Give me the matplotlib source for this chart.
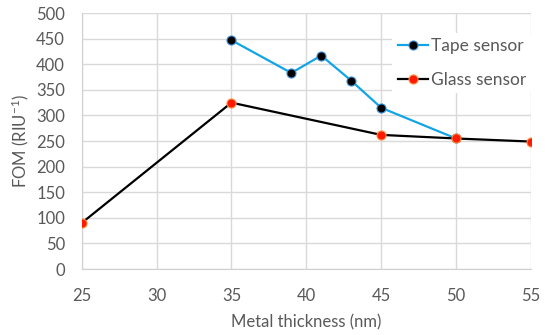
import matplotlib
matplotlib.use("Agg")
from matplotlib import pyplot as plt

plt.rcParams['font.family'] = ['Lato', 'DejaVu Sans']
plt.rcParams['mathtext.default'] = 'regular'

# data
tape_x = [35, 39, 41, 43, 45, 50]
tape_y = [447, 383, 417, 368, 315, 255]
glass_x = [25, 35, 45, 50, 55]
glass_y = [90, 325, 262, 255, 249]
x_ticks = [25, 30, 35, 40, 45, 50, 55]
y_ticks = [0, 50, 100, 150, 200, 250, 300, 350, 400, 450, 500]

grey = '#595959'

fig = plt.figure(figsize=(5.45, 3.35), dpi=100)
ax = fig.add_axes([0.150, 0.197, 0.824, 0.764])

ax.plot(tape_x, tape_y, '-o', color='#12A5E6', lw=1.6,
        markerfacecolor='black', markeredgecolor='#3B8ED8', markersize=6.5,
        markeredgewidth=0.8, label='Tape sensor', zorder=3)
ax.plot(glass_x, glass_y, '-o', color='black', lw=1.6,
        markerfacecolor='#FF1A00', markeredgecolor='#FF8A3D', markersize=6.5,
        markeredgewidth=0.8, label='Glass sensor', zorder=3)

ax.set_xlim(25, 55)
ax.set_ylim(0, 500)
ax.set_xticks(x_ticks)
ax.set_yticks(y_ticks)
ax.grid(True, color='#D9D9D9', lw=1)
ax.set_axisbelow(True)
for s in ['top', 'right']:
    ax.spines[s].set_visible(False)
for s in ['left', 'bottom']:
    ax.spines[s].set_color('#D0D0D0')
ax.tick_params(length=0, colors=grey, labelsize=12, pad=14)
ax.tick_params(axis='y', pad=12)
ax.set_xlabel('Metal thickness (nm)', color=grey, fontsize=12, labelpad=7)
ax.set_ylabel('FOM (RIU$^{-1}$)', color=grey, fontsize=12, labelpad=4)

leg = ax.legend(loc='upper right', bbox_to_anchor=(1.02, 0.955), frameon=True,
                fontsize=12.5, labelspacing=1.0, handlelength=1.75,
                handletextpad=0.15, borderpad=0.3)
leg.get_frame().set_facecolor('white')
leg.get_frame().set_edgecolor('none')
leg.get_frame().set_alpha(1)
for t in leg.get_texts():
    t.set_color(grey)

fig.savefig('out.png', dpi=100)
